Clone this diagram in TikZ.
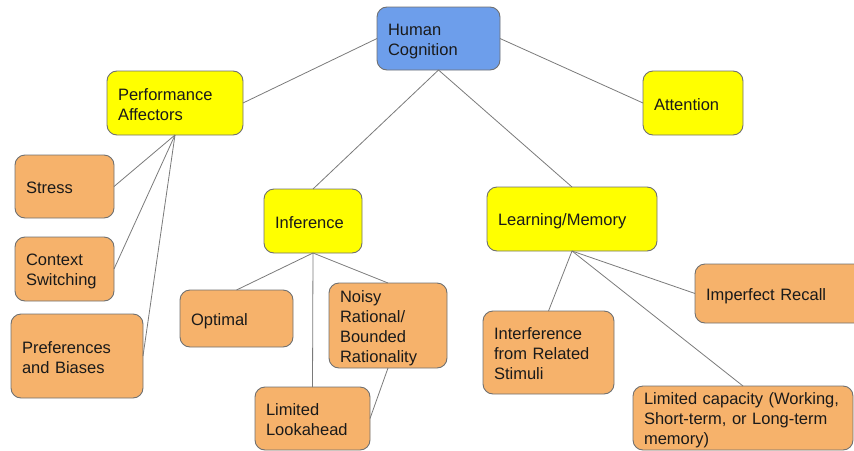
\documentclass[tikz,border=0pt]{standalone}
\usepackage{fontspec}
\setmainfont{Liberation Sans}
\definecolor{hcblue}{HTML}{6D9EEB}
\definecolor{ylw}{HTML}{FFFF00}
\definecolor{org}{HTML}{F6B26B}
\definecolor{bord}{HTML}{707070}
\definecolor{conn}{HTML}{7A7A7A}
\definecolor{txt}{HTML}{1A1A1A}
\tikzset{
  box/.style={draw=bord, line width=0.9pt, rounded corners=10pt, inner xsep=11pt, inner ysep=0pt,
    align=left, text=txt, font=\fontsize{16.5}{20}\selectfont, outer sep=0pt,
    execute at begin node={\rule{0pt}{17pt}},
    execute at end node={\rule[-3pt]{0pt}{3pt}}},
  bluebox/.style={box, fill=hcblue},
  ybox/.style={box, fill=ylw},
  obox/.style={box, fill=org},
  link/.style={draw=conn, line width=0.8pt}
}
\begin{document}
\begin{tikzpicture}[x=1pt,y=-1pt]
\useasboundingbox (0,0) rectangle (854,450);
\begin{scope}
\clip (0,0) rectangle (854,450);
\node[bluebox, minimum width=123pt, minimum height=63pt, text width=101pt] (hc) at (438.5,38.5) {Human\\Cognition};
\node[ybox, minimum width=136pt, minimum height=64pt, text width=114pt] (pa) at (175,103) {Performance\\Affectors};
\node[ybox, minimum width=100pt, minimum height=64pt, text width=78pt] (att) at (693,103) {Attention};
\node[obox, minimum width=99pt, minimum height=63pt, text width=77pt] (stress) at (64.5,186.5) {Stress};
\node[obox, minimum width=99pt, minimum height=64pt, text width=77pt] (ctx) at (64.5,269) {Context\\Switching};
\node[obox, minimum width=132pt, minimum height=84pt, text width=110pt] (pref) at (77,356) {Preferences\\and Biases};
\node[ybox, minimum width=98pt, minimum height=64pt, text width=76pt] (inf) at (313,221) {Inference};
\node[ybox, minimum width=170pt, minimum height=64pt, text width=148pt] (lm) at (572,219) {Learning/Memory};
\node[obox, minimum width=113pt, minimum height=57pt, text width=91pt] (opt) at (236.5,318.5) {Optimal};
\node[obox, minimum width=118pt, minimum height=85pt, text width=96pt] (noisy) at (388,325.5) {Noisy\\Rational/\\Bounded\\Rationality};
\node[obox, minimum width=115pt, minimum height=63pt, text width=93pt] (look) at (312.5,418.5) {Limited\\Lookahead};
\node[obox, minimum width=176pt, minimum height=59pt, text width=154pt] (imp) at (783,293.5) {Imperfect Recall};
\node[obox, minimum width=131pt, minimum height=83pt, text width=109pt] (intf) at (548.5,352.5) {Interference\\from Related\\Stimuli};
\node[obox, minimum width=220pt, minimum height=64pt, text width=198pt] (cap) at (743,418) {Limited capacity (Working,\\Short-term, or Long-term\\memory)};
\path[link] (hc.west) -- (pa.east);
\path[link] (hc.east) -- (att.west);
\path[link] (hc.south) -- (inf.north);
\path[link] (hc.south) -- (lm.north);
\path[link] (pa.south) -- (stress.east);
\path[link] (pa.south) -- (ctx.east);
\path[link] (pa.south) -- (pref.east);
\path[link] (inf.south) -- (opt.north);
\path[link] (inf.south) -- (noisy.north);
\path[link] (inf.south) -- (look.north);
\path[link] (noisy.south) -- (look.east);
\path[link] (lm.south) -- (intf.north);
\path[link] (lm.south) -- (imp.west);
\path[link] (lm.south) -- (cap.north);
\end{scope}
\end{tikzpicture}
\end{document}
